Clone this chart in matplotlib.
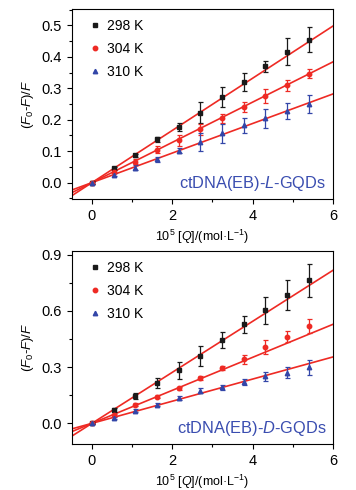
import numpy as np
import matplotlib
matplotlib.use('Agg')
import matplotlib.pyplot as plt
from matplotlib.ticker import MultipleLocator

plt.rcParams['font.family'] = ['Liberation Sans', 'DejaVu Sans']
plt.rcParams['mathtext.fontset'] = 'custom'
plt.rcParams['mathtext.rm'] = 'Liberation Sans'
plt.rcParams['mathtext.it'] = 'Liberation Sans:italic'

# quencher concentration, 10^5 [Q] / (mol/L)
conc = [0, 0.54, 1.08, 1.62, 2.16, 2.70, 3.24, 3.78, 4.32, 4.86, 5.40]
temps = ['298 K', '304 K', '310 K']

# L-GQDs panel
l_vals = [
    [0, 0.045, 0.087, 0.138, 0.178, 0.222, 0.272, 0.320, 0.370, 0.417, 0.455],
    [0, 0.035, 0.067, 0.105, 0.135, 0.170, 0.205, 0.240, 0.275, 0.310, 0.347],
    [0, 0.025, 0.048, 0.075, 0.102, 0.130, 0.157, 0.182, 0.205, 0.228, 0.250],
]
l_err = [
    [0.004, 0.005, 0.005, 0.008, 0.013, 0.033, 0.032, 0.030, 0.017, 0.042, 0.040],
    [0.003, 0.005, 0.007, 0.012, 0.018, 0.018, 0.014, 0.015, 0.022, 0.018, 0.013],
    [0.003, 0.005, 0.007, 0.008, 0.008, 0.028, 0.030, 0.023, 0.030, 0.025, 0.030],
]
l_slope = [0.083, 0.064, 0.047]
l_icept = [0.0, 0.0, 0.0]

# D-GQDs panel
d_vals = [
    [0, 0.071, 0.146, 0.215, 0.282, 0.358, 0.444, 0.528, 0.604, 0.684, 0.762],
    [0, 0.045, 0.100, 0.143, 0.187, 0.240, 0.294, 0.342, 0.408, 0.463, 0.520],
    [0, 0.028, 0.066, 0.100, 0.134, 0.175, 0.192, 0.220, 0.250, 0.270, 0.300],
]
d_err = [
    [0.005, 0.010, 0.018, 0.028, 0.043, 0.053, 0.042, 0.045, 0.072, 0.080, 0.086],
    [0.004, 0.006, 0.008, 0.008, 0.008, 0.010, 0.012, 0.025, 0.036, 0.030, 0.036],
    [0.004, 0.006, 0.008, 0.010, 0.010, 0.012, 0.014, 0.015, 0.022, 0.030, 0.040],
]
d_slope = [0.136, 0.088, 0.059]
d_icept = [0.0, 0.0, 0.0]

colors = ['#1a1a1a', '#ee2a24', '#3346a8']
markers = ['s', 'o', '^']
line_color = '#ee2a24'
label_blue = '#3a4db0'


def draw(ax, vals, errs, slopes, icepts, ylim, ymajor, yminor, tag):
    xfit = np.array([-0.5, 6.0])
    for s, b in zip(slopes, icepts):
        ax.plot(xfit, s * xfit + b, color=line_color, lw=1.2, zorder=2)
    for v, e, c, m, t in zip(vals, errs, colors, markers, temps):
        ax.errorbar(conc, v, yerr=e, fmt='none', ecolor=c, elinewidth=0.9,
                    capsize=1.8, capthick=0.9, zorder=3)
        ax.plot(conc, v, ls='none', marker=m, color=c, ms=3.2, label=t, zorder=4)
    ax.set_xlim(-0.5, 6)
    ax.set_ylim(*ylim)
    ax.xaxis.set_major_locator(MultipleLocator(2))
    ax.xaxis.set_minor_locator(MultipleLocator(1))
    ax.yaxis.set_major_locator(MultipleLocator(ymajor))
    ax.yaxis.set_minor_locator(MultipleLocator(yminor))
    ax.tick_params(which='both', direction='out', labelsize=10.5,
                   top=False, right=False, width=0.8)
    ax.tick_params(which='major', length=3.5)
    ax.tick_params(which='minor', length=2)
    for sp in ax.spines.values():
        sp.set_linewidth(0.8)
    ax.set_xlabel(r'10$^5$ [$Q$]/(mol·L$^{-1}$)', fontsize=9)
    ax.set_ylabel(r'($F_0$-$F$)/$F$', fontsize=9.5)
    ax.legend(loc='upper left', bbox_to_anchor=(0.045, 0.975), frameon=False,
              handlelength=0.8, handletextpad=0.5, labelspacing=0.65,
              borderaxespad=0, fontsize=10)
    ax.text(0.975, 0.08, tag, transform=ax.transAxes, ha='right', va='center',
            color=label_blue, fontsize=11.8)


fig = plt.figure(figsize=(3.56, 4.90), dpi=100)
ax1 = fig.add_axes([0.202, 0.594, 0.733, 0.388])
ax2 = fig.add_axes([0.202, 0.094, 0.733, 0.394])

draw(ax1, l_vals, l_err, l_slope, l_icept, (-0.052, 0.553), 0.1, 0.05,
     r'ctDNA(EB)-$L$-GQDs')
draw(ax2, d_vals, d_err, d_slope, d_icept, (-0.11, 0.92), 0.3, 0.15,
     r'ctDNA(EB)-$D$-GQDs')

fig.savefig('out.png', dpi=100)
